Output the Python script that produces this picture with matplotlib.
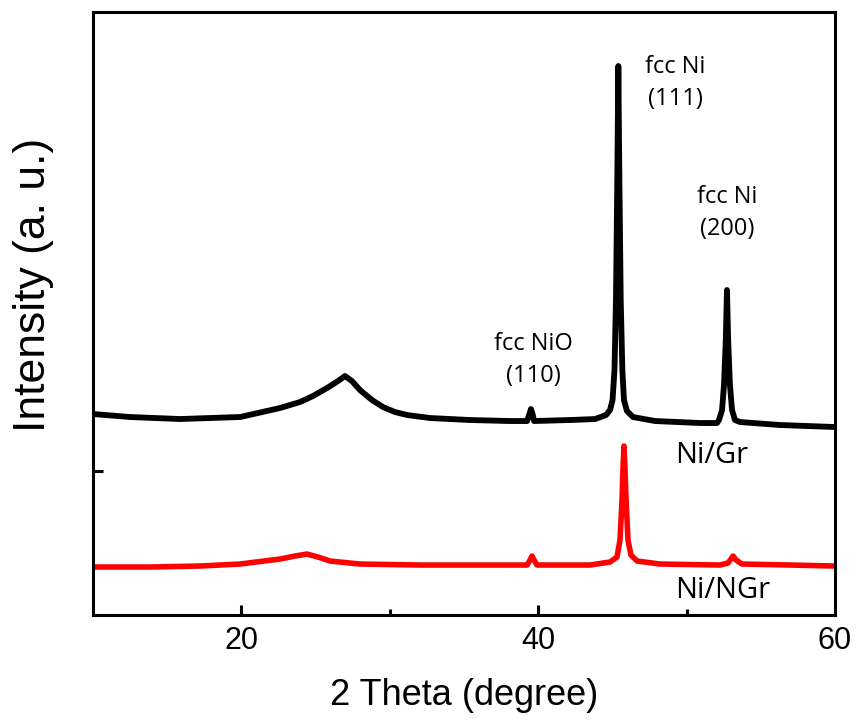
import numpy as np
import matplotlib
matplotlib.use("Agg")
import matplotlib.pyplot as plt

# XRD patterns (2 theta in degree, intensity in a.u.)
tt_gr = [10.0, 12.49, 15.86, 19.91, 22.60, 23.95, 24.82, 25.77, 26.51, 26.98,
         27.45, 27.99, 28.80, 29.54, 30.35, 31.16, 32.71, 35.40, 38.10, 39.25,
         39.41, 39.51, 39.62, 39.72, 42.14, 43.83, 44.57, 44.84, 45.01, 45.14,
         45.24, 45.33, 45.40, 45.47, 45.56, 45.67, 45.78, 45.98, 46.39, 47.87,
         50.90, 52.05, 52.18, 52.39, 52.52, 52.64, 52.72, 52.80, 52.92, 53.06,
         53.26, 53.60, 56.29, 60.0]
int_gr = [201, 198, 196, 198, 207, 213, 219, 227, 234, 239,
          234, 225, 215, 208, 203, 200, 197, 195, 194, 194,
          201, 206, 201, 194, 195, 196, 200, 205, 215, 245,
          315, 435, 549, 435, 315, 245, 215, 204, 198, 194,
          192, 192, 195, 205, 230, 275, 325, 275, 230, 205,
          195, 193, 190, 188]

tt_ngr = [10.0, 13.84, 17.21, 19.91, 22.60, 23.61, 24.42, 25.16, 25.97, 27.99,
          32.04, 37.43, 39.25, 39.45, 39.58, 39.72, 39.92, 43.49, 44.84, 45.31,
          45.51, 45.65, 45.71, 45.78, 45.85, 45.92, 46.05, 46.25, 46.66, 48.21,
          52.25, 52.79, 52.99, 53.13, 53.33, 53.73, 56.97, 60.0]
int_ngr = [48, 48, 49, 51, 56, 59, 61, 58, 54, 51,
           50, 50, 50, 55, 59, 55, 50, 50, 53, 58,
           75, 115, 145, 169, 145, 115, 75, 60, 54, 51,
           50, 52, 56, 59, 55, 51, 50, 49]

# peak labels: text, 2 theta, intensity
peak_txt = ["fcc NiO\n(110)", "fcc Ni\n(111)", "fcc Ni\n(200)"]
peak_x = [39.65, 49.22, 52.72]
peak_y = [255, 532, 402]

sample_txt = ["Ni/Gr", "Ni/NGr"]
sample_x = [51.71, 52.45]
sample_y = [160, 25]

fig = plt.figure(figsize=(8.58, 7.2), dpi=100)
ax = fig.add_axes([0.1084, 0.1458, 0.8648, 0.8375])

ax.plot(tt_gr, int_gr, color="black", lw=4.2, solid_joinstyle="round")
ax.plot(tt_ngr, int_ngr, color="#ff0000", lw=4.0, solid_joinstyle="round")

for t, x, y in zip(peak_txt, peak_x, peak_y):
    ax.text(x, y, t, ha="center", va="center", fontsize=17,
            family="Open Sans", linespacing=1.45)
for t, x, y in zip(sample_txt, sample_x, sample_y):
    ax.text(x, y, t, ha="center", va="center", fontsize=21, family="Open Sans")

ax.set_xlim(10, 60)
ax.set_ylim(0, 603)
ax.set_xticks([20, 40, 60])
ax.set_xticks([30, 50], minor=True)
ax.set_yticks([144])
ax.set_yticklabels([])
ax.tick_params(axis="both", which="major", direction="in", length=7, width=2.2,
               labelsize=22, pad=8)
ax.tick_params(axis="both", which="minor", direction="in", length=4, width=2.2)
for lab in ax.get_xticklabels():
    lab.set_family("Liberation Sans")
for s in ax.spines.values():
    s.set_linewidth(2.2)

ax.set_xlabel("2 Theta (degree)", fontsize=26, family="Liberation Sans")
ax.set_ylabel("Intensity (a. u.)", fontsize=32, family="Liberation Sans")
ax.xaxis.set_label_coords(0.5, -0.104)
ax.yaxis.set_label_coords(-0.052, 0.547)

fig.savefig("out.png", dpi=100)
